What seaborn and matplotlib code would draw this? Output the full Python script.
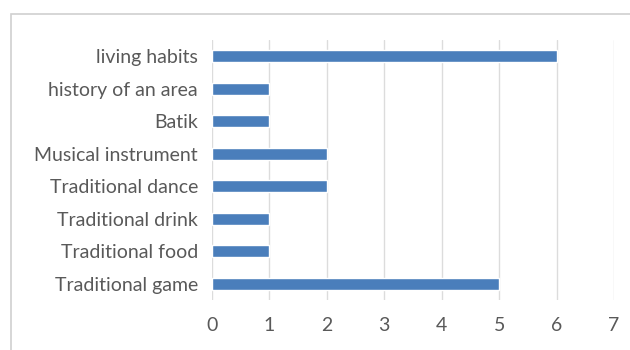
import matplotlib
matplotlib.use("Agg")
import matplotlib.pyplot as plt
import seaborn as sns
import pandas as pd
from matplotlib.patches import Rectangle

categories = ["living habits", "history of an area", "Batik", "Musical instrument",
              "Traditional dance", "Traditional drink", "Traditional food", "Traditional game"]
values = [6, 1, 1, 2, 2, 1, 1, 5]
xticks = [0, 1, 2, 3, 4, 5, 6, 7]

df = pd.DataFrame({"category": categories, "value": values})

sns.set_style("white")
plt.rcParams["font.family"] = ["Lato", "DejaVu Sans"]

fig = plt.figure(figsize=(6.3, 3.5), dpi=100)
ax = fig.add_axes([212/630, 1 - 300/350, (614 - 212)/630, (300 - 40)/350])

sns.barplot(data=df, x="value", y="category", order=categories, color="#4a7ebb",
            width=0.38, ax=ax, saturation=1)

ax.set_xlim(0, 7)
ax.set_ylim(7.5, -0.5)
ax.set_xticks(xticks)
ax.set_xticklabels([str(t) for t in xticks])
ax.set_xlabel("")
ax.set_ylabel("")
ax.grid(axis="x", color="#dcdcdc", linewidth=1)
ax.set_axisbelow(True)
for s in ax.spines.values():
    s.set_visible(False)
ax.tick_params(axis="both", length=0, colors="#595959", labelsize=14)
ax.tick_params(axis="x", pad=12)
ax.tick_params(axis="y", pad=10)

# outer chart frame
fig.patches.append(Rectangle((11/630, -0.1), 1.2, 1 - 14/350 + 0.1, transform=fig.transFigure,
                             fill=False, edgecolor="#d0d0d0", linewidth=1.2))

fig.savefig("out.png", dpi=100, facecolor="white")
